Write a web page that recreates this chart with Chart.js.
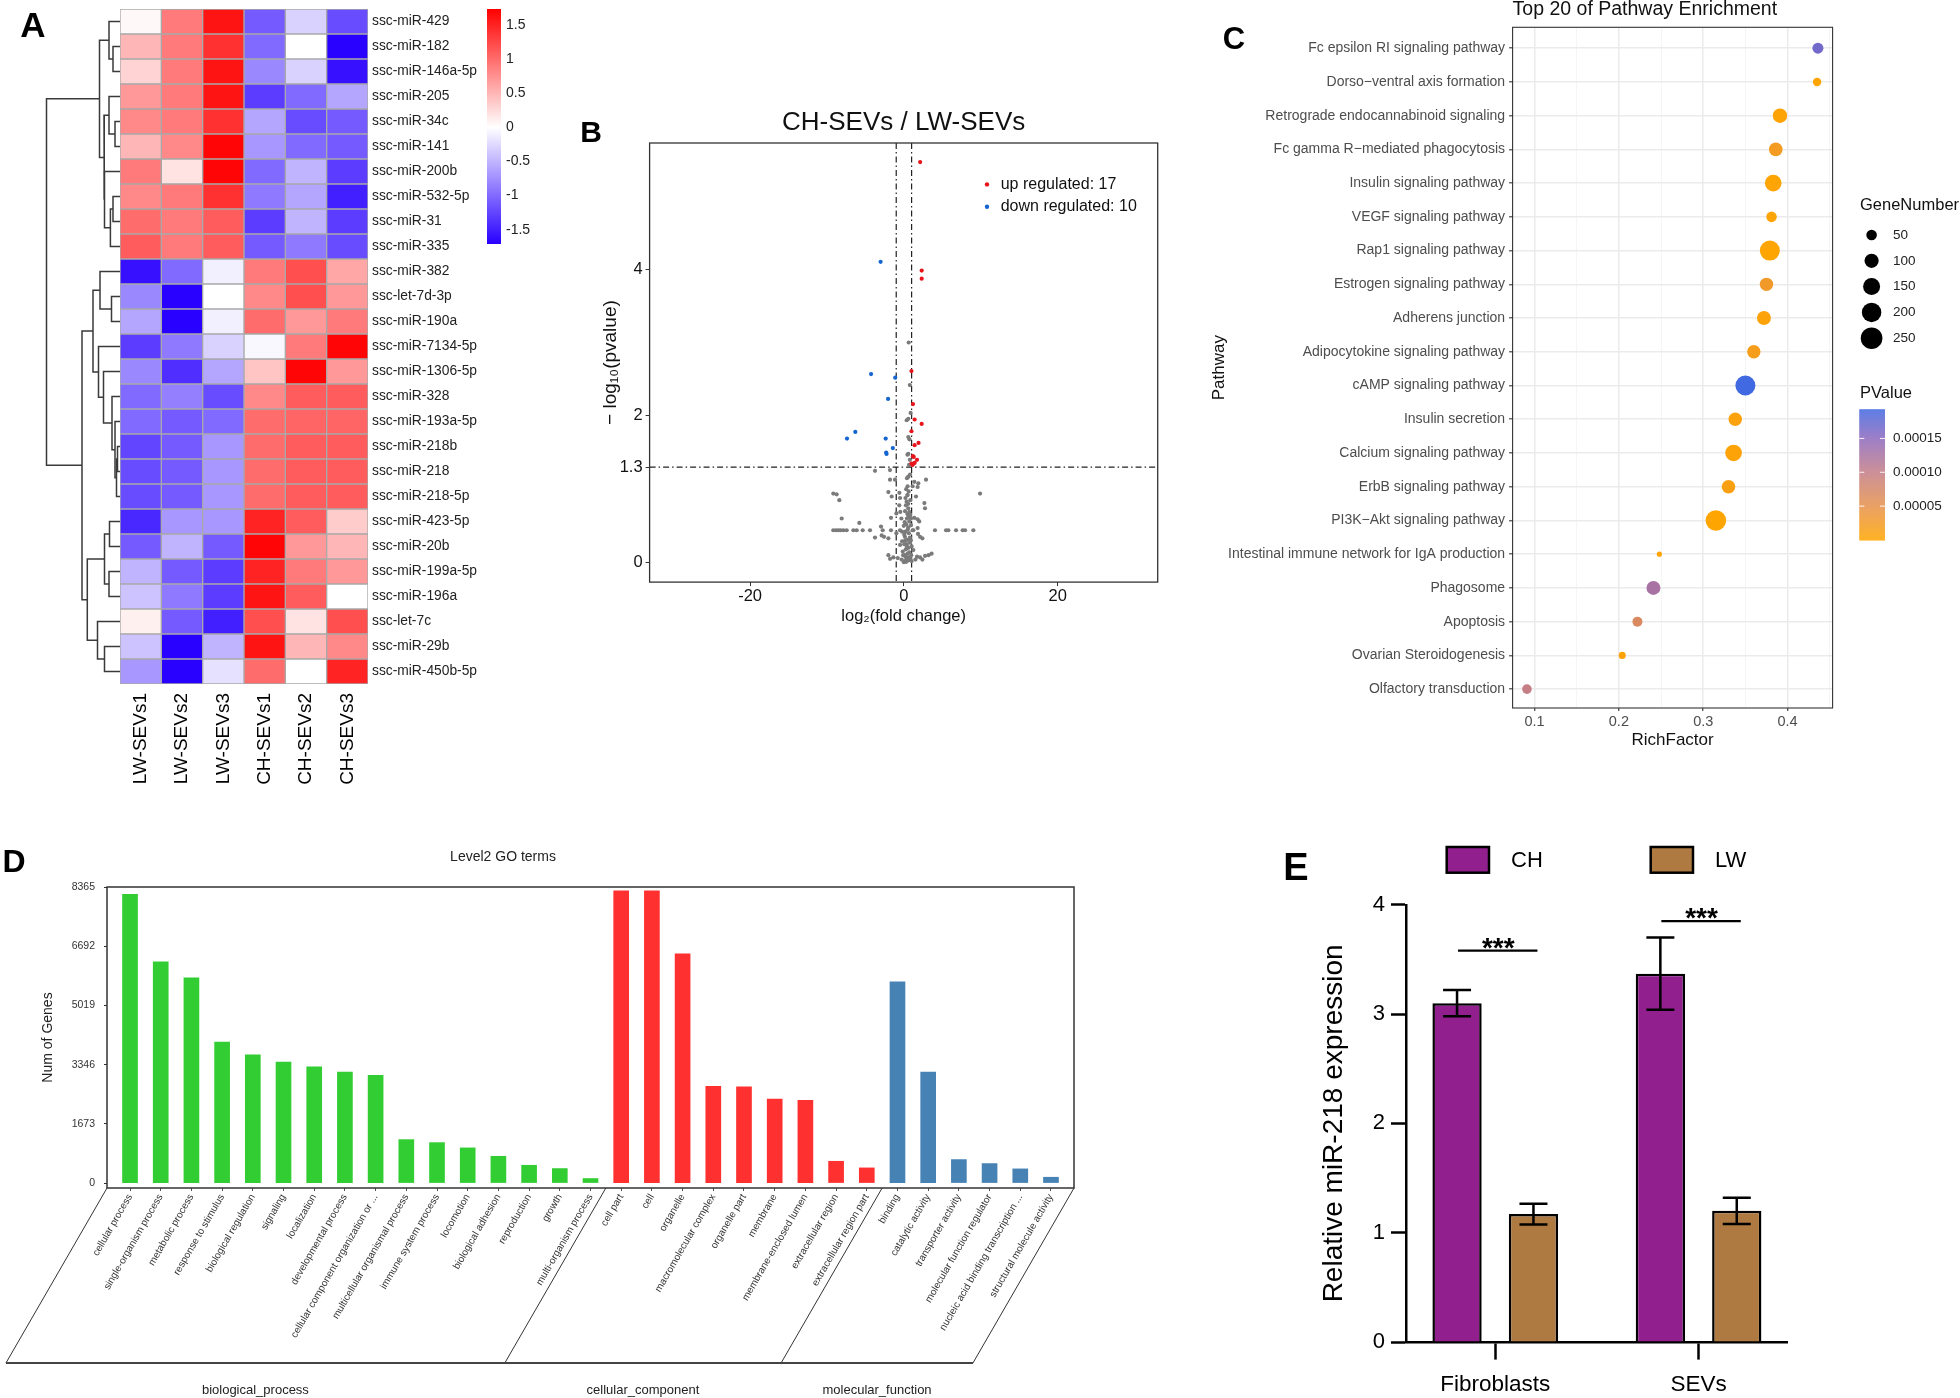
<!DOCTYPE html>
<html>
<head>
<meta charset="utf-8">
<title>miR-218 figure</title>
<script src="https://cdn.jsdelivr.net/npm/chart.js@4.4.1/dist/chart.umd.min.js"></script>
<style>
  html, body { margin: 0; padding: 0; background: #fff; }
  #fig { position: relative; width: 1960px; height: 1398px; overflow: hidden; background: #fff; }
  #fig canvas { position: absolute; }
  .tag { position: absolute; font-family: "Liberation Sans", Arial, sans-serif; font-weight: bold; line-height: 1; transform: translate(-50%, -50%); color: #000; }
</style>
</head>
<body>
<div id="fig">
  <canvas id="dendro" width="120" height="800" style="left:0;top:0"></canvas>
  <canvas id="heat" width="540" height="800" style="left:0;top:0"></canvas>
  <canvas id="volcano" width="620" height="540" style="left:550px;top:100px"></canvas>
  <canvas id="kegg" width="760" height="760" style="left:1200px;top:0"></canvas>
  <canvas id="go" width="1100" height="558" style="left:0;top:840px"></canvas>
  <canvas id="qpcr" width="685" height="558" style="left:1275px;top:840px"></canvas>
  <div class="tag" style="left:33px;top:24px;font-size:35px">A</div>
  <div class="tag" style="left:591px;top:132px;font-size:30px">B</div>
  <div class="tag" style="left:1234px;top:38px;font-size:31px">C</div>
  <div class="tag" style="left:14px;top:861px;font-size:32px">D</div>
  <div class="tag" style="left:1296px;top:867px;font-size:38px">E</div>
</div>
<script>
const ARIAL = '"Liberation Sans", Arial, Helvetica, sans-serif';
Chart.defaults.font.family = ARIAL;
Chart.defaults.color = '#222';

// A: heatmap of the 27 differentially expressed miRNAs
const heatGenes = ['ssc-miR-429', 'ssc-miR-182', 'ssc-miR-146a-5p', 'ssc-miR-205', 'ssc-miR-34c', 'ssc-miR-141',
  'ssc-miR-200b', 'ssc-miR-532-5p', 'ssc-miR-31', 'ssc-miR-335', 'ssc-miR-382', 'ssc-let-7d-3p', 'ssc-miR-190a',
  'ssc-miR-7134-5p', 'ssc-miR-1306-5p', 'ssc-miR-328', 'ssc-miR-193a-5p', 'ssc-miR-218b', 'ssc-miR-218',
  'ssc-miR-218-5p', 'ssc-miR-423-5p', 'ssc-miR-20b', 'ssc-miR-199a-5p', 'ssc-miR-196a', 'ssc-let-7c',
  'ssc-miR-29b', 'ssc-miR-450b-5p'];
const heatSamples = ['LW-SEVs1', 'LW-SEVs2', 'LW-SEVs3', 'CH-SEVs1', 'CH-SEVs2', 'CH-SEVs3'];
const zLW1 = [0.05, 0.5, 0.3, 0.7, 0.8, 0.5, 0.9, 0.8, 1.0, 1.1, -1.6, -0.8, -0.6, -1.3, -0.8, -1.0, -1.0, -1.25, -1.2, -1.2, -1.45, -1.1, -0.5, -0.4, 0.1, -0.4, -0.7];
const zLW2 = [0.9, 0.9, 0.9, 0.9, 0.9, 0.8, 0.2, 0.9, 0.9, 0.9, -1.0, -1.7, -1.7, -0.9, -1.4, -0.85, -1.1, -1.1, -1.1, -1.1, -0.7, -0.5, -1.1, -0.9, -1.1, -1.7, -1.7];
const zLW3 = [1.6, 1.4, 1.6, 1.6, 1.4, 1.7, 1.7, 1.4, 1.1, 1.1, -0.1, 0.0, -0.1, -0.3, -0.6, -1.2, -1.0, -0.7, -0.7, -0.7, -0.7, -1.1, -1.3, -1.3, -1.5, -0.5, -0.2];
const zCH1 = [-1.1, -1.0, -0.8, -1.3, -0.6, -0.7, -1.0, -0.9, -1.3, -1.1, 0.9, 0.8, 1.0, -0.05, 0.4, 0.8, 1.0, 1.0, 1.0, 1.0, 1.5, 1.7, 1.5, 1.6, 1.2, 1.6, 1.0];
const zCH2 = [-0.3, 0.0, -0.3, -1.0, -1.2, -1.0, -0.5, -0.6, -0.5, -0.9, 1.2, 1.2, 0.7, 0.9, 1.7, 1.1, 1.05, 1.1, 1.1, 1.1, 1.1, 0.7, 0.9, 1.1, 0.2, 0.5, 0.0];
const zCH3 = [-1.2, -1.7, -1.6, -0.6, -1.1, -1.1, -1.3, -1.5, -1.3, -1.2, 0.6, 0.7, 0.9, 1.7, 0.7, 1.1, 1.05, 1.1, 1.1, 1.1, 0.35, 0.5, 0.7, 0.0, 1.2, 0.8, 1.5];
const heatTicks = [1.5, 1, 0.5, 0, -0.5, -1, -1.5];
const heatRange = [-1.71, 1.735];
// [left child, right child, merge height]; leaves are 0..26, new nodes from 27
const dendroMerges = [
  [1, 2, 7], [0, 27, 11], [4, 5, 5], [3, 29, 11], [7, 8, 7], [31, 9, 9.6], [6, 32, 15.5], [30, 33, 16], [28, 34, 20.5],
  [11, 12, 8.5], [10, 36, 20], [17, 18, 2.5], [38, 19, 3.5], [16, 39, 5], [15, 40, 8], [14, 41, 16.5], [13, 42, 21.5],
  [37, 43, 27], [20, 21, 10.5], [22, 23, 11], [45, 46, 15.5], [25, 26, 15.5], [24, 48, 22.5], [47, 49, 32.7],
  [44, 50, 38], [35, 51, 73.5]
];

// B: volcano plot, [log2 fold change, -log10 p]
const volcanoUp = [[2.11, 5.46], [2.31, 3.98], [2.31, 3.87], [0.98, 2.61], [1.18, 2.16], [1.39, 1.95], [2.31, 1.89],
  [0.98, 1.79], [1.90, 1.63], [1.39, 1.60], [1.18, 1.45], [1.70, 1.40], [1.27, 1.44], [0.98, 1.35], [1.29, 1.35],
  [1.40, 1.36], [1.12, 1.33]];
const volcanoDown = [[-3.03, 4.10], [-4.27, 2.57], [-1.13, 2.52], [-2.06, 2.23], [-6.32, 1.78], [-7.40, 1.69],
  [-2.37, 1.69], [-1.44, 1.56], [-2.31, 1.50], [-2.26, 1.48]];
const volcanoNS = [[0.62, 3.0], [0.77, 2.42], [0.87, 2.04], [0.57, 1.96], [0.36, 1.94], [0.72, 1.68], [0.57, 1.71],
  [0.46, 1.47], [0.77, 1.40], [0.67, 1.33], [0.57, 1.48],
  [-3.76, 1.25], [-1.81, 1.26], [-1.81, 1.13], [-1.16, 1.13], [0.57, 1.17], [1.35, 1.10], [1.87, 1.08], [2.87, 1.13],
  [0.48, 1.04], [1.13, 1.04], [1.78, 1.03], [-9.18, 0.94], [-8.75, 0.93], [-8.40, 0.85], [9.90, 0.94], [-2.02, 0.96],
  [-1.59, 0.90], [-0.59, 0.95], [-0.50, 0.88], [0.48, 0.92], [0.83, 0.85], [1.57, 0.90], [2.66, 0.81], [2.74, 0.74],
  [0.26, 0.78], [0.57, 0.74], [0.70, 0.69], [0.83, 0.65], [0.39, 0.60], [0.70, 0.56], [0.92, 0.60], [1.35, 0.61],
  [1.78, 0.59], [1.99, 0.56], [-0.60, 0.78], [-0.47, 0.69], [-0.33, 0.60], [-1.68, 0.61], [-0.98, 0.67], [-8.09, 0.60],
  [-5.80, 0.54], [-9.18, 0.44], [-8.83, 0.44], [-8.53, 0.44], [-8.22, 0.44], [-7.87, 0.44], [-7.44, 0.44], [-6.57, 0.44],
  [-6.14, 0.44], [-5.36, 0.44], [-4.41, 0.44], [-2.76, 0.44], [-1.68, 0.44], [-0.51, 0.44], [1.23, 0.44], [4.04, 0.44],
  [5.48, 0.44], [5.78, 0.44], [6.78, 0.44], [7.64, 0.44], [7.95, 0.44], [9.03, 0.44], [-2.98, 0.49], [-3.76, 0.34],
  [-2.89, 0.37], [-2.59, 0.35], [-2.02, 0.33], [-0.98, 0.40], [-0.24, 0.42], [-0.02, 0.50], [0.57, 0.48], [0.92, 0.51],
  [1.13, 0.44], [1.78, 0.47], [2.10, 0.35], [2.40, 0.33], [1.83, 0.39], [0.13, 0.35], [0.44, 0.31], [0.78, 0.34],
  [-0.24, 0.29], [-0.50, 0.24], [0.35, 0.25], [0.78, 0.27], [1.22, 0.17], [-0.15, 0.15], [0.13, 0.10], [0.48, 0.12],
  [-2.02, 0.10], [-1.38, 0.07], [1.70, 0.08], [2.10, 0.07], [2.75, 0.09], [3.20, 0.10], [3.60, 0.12], [0.83, 0.05],
  [0.10, 0.02], [0.30, 0.01], [0.60, 0.03], [-0.30, 0.04], [1.00, 0.02], [-0.80, 0.06], [1.50, 0.04], [-1.80, 0.05],
  [2.40, 0.04], [0.00, 0.005], [0.20, 0.88], [0.35, 0.83], [0.55, 0.80], [0.15, 0.70], [0.45, 0.66], [0.62, 0.63],
  [0.10, 0.55], [0.30, 0.52], [0.50, 0.45], [0.65, 0.40], [0.20, 0.42], [0.05, 0.38], [0.40, 0.22], [0.60, 0.20],
  [0.25, 0.18], [0.05, 0.25], [0.70, 0.14], [0.20, 0.08], [0.55, 0.07], [0.35, 0.05], [-0.10, 0.10], [0.90, 0.30],
  [1.00, 0.22], [0.95, 0.10], [0.15, 0.30], [0.45, 0.92], [0.62, 0.97], [0.30, 1.00], [0.80, 1.20], [0.40, 1.15]];
const volcanoXTicks = [-20, 0, 20];
const volcanoYTicks = [0, 1.3, 2, 4];
const fcCut = [-1, 1];
const pCut = 1.3;

// C: KEGG enrichment bubbles
const pathNames = ['Fc epsilon RI signaling pathway', 'Dorso\u2212ventral axis formation', 'Retrograde endocannabinoid signaling',
  'Fc gamma R\u2212mediated phagocytosis', 'Insulin signaling pathway', 'VEGF signaling pathway', 'Rap1 signaling pathway',
  'Estrogen signaling pathway', 'Adherens junction', 'Adipocytokine signaling pathway', 'cAMP signaling pathway',
  'Insulin secretion', 'Calcium signaling pathway', 'ErbB signaling pathway', 'PI3K\u2212Akt signaling pathway',
  'Intestinal immune network for IgA production', 'Phagosome', 'Apoptosis', 'Ovarian Steroidogenesis', 'Olfactory transduction'];
const pathRich = [0.436, 0.435, 0.391, 0.386, 0.383, 0.381, 0.379, 0.375, 0.372, 0.360, 0.350, 0.338, 0.336, 0.330, 0.315, 0.248, 0.241, 0.222, 0.204, 0.091];
const pathGenes = [55, 27, 104, 91, 142, 50, 212, 88, 97, 88, 212, 88, 142, 91, 225, 2, 97, 43, 15, 39];
const pathP = [0.000165, 0.0000008, 0.000004, 0.000022, 0.000002, 0.000003, 0.000001, 0.000028, 0.000006, 0.000018,
  0.000193, 0.000008, 0.000005, 0.000012, 0.000001, 0.000002, 0.000125, 0.000068, 0.000004, 0.000098];
const richTicks = [0.1, 0.15, 0.2, 0.25, 0.3, 0.35, 0.4, 0.45];
const geneLegend = [50, 100, 150, 200, 250];
const pLegend = [0.00005, 0.0001, 0.00015];
const pMax = 0.000193;

// D: level 2 GO terms
const goBPNames = ['cellular process', 'single-organism process', 'metabolic process', 'response to stimulus',
  'biological regulation', 'signaling', 'localization', 'developmental process', 'cellular component organization or ...',
  'multicellular organismal process', 'immune system process', 'locomotion', 'biological adhesion', 'reproduction',
  'growth', 'multi-organism process'];
const goBPCounts = [8158, 6248, 5797, 3983, 3625, 3419, 3286, 3137, 3041, 1227, 1142, 993, 756, 502, 409, 127];
const goCCNames = ['cell part', 'cell', 'organelle', 'macromolecular complex', 'organelle part', 'membrane',
  'membrane-enclosed lumen', 'extracellular region', 'extracellular region part'];
const goCCCounts = [8260, 8260, 6474, 2731, 2722, 2375, 2336, 615, 428];
const goMFNames = ['binding', 'catalytic activity', 'transporter activity', 'molecular function regulator',
  'nucleic acid binding transcription ...', 'structural molecule activity'];
const goMFCounts = [5684, 3137, 663, 550, 400, 164];
const goGroups = ['biological_process', 'cellular_component', 'molecular_function'];
const goYTicks = [0, 1673, 3346, 5019, 6692, 8365];

// E: qPCR of miR-218
const qpcrGroups = ['Fibroblasts', 'SEVs'];
const chMean = [3.10, 3.37];
const chSD = [0.12, 0.33];
const lwMean = [1.17, 1.20];
const lwSD = [0.095, 0.12];
const sigLevels = [3.58, 3.85];
const sigMarks = ['***', '***'];

// ---------- helpers ----------
const base = {responsive: false, animation: false, events: [], devicePixelRatio: 1};
const quiet = {legend: {display: false}, tooltip: {enabled: false}};
const fitTo = (w, h) => (s) => {
  if (w !== undefined) s.width = w;
  if (h !== undefined) s.height = h;
  s.paddingLeft = s.paddingRight = s.paddingTop = s.paddingBottom = 0;
};
const setTicks = (vals) => (s) => { s.ticks = vals.map(v => ({value: v})); };

function drawText(ctx, text, x, y, font, opts = {}) {
  ctx.save();
  ctx.font = font;
  ctx.fillStyle = opts.color || '#222';
  ctx.textAlign = opts.align || 'left';
  ctx.textBaseline = opts.baseline || 'middle';
  ctx.fillText(text, x, y);
  ctx.restore();
}

function mix(a, b, t) {
  return `rgb(${a.map((c, i) => Math.round(c + (b[i] - c) * t)).join(',')})`;
}

function heatColor(v) {
  if (v < 0) return mix([255, 255, 255], [40, 0, 255], Math.min(1, v / heatRange[0]));
  return mix([255, 255, 255], [255, 0, 0], Math.min(1, v / heatRange[1]));
}

const pStops = [[0, [255, 165, 0]], [0.26, [230, 145, 75]], [0.52, [195, 125, 135]], [0.78, [140, 105, 190]], [1, [65, 105, 225]]];
function pColor(p) {
  const t = Math.max(0, Math.min(1, p / pMax));
  for (let k = 1; k < pStops.length; k++) {
    if (t <= pStops[k][0]) {
      const [t0, c0] = pStops[k - 1], [t1, c1] = pStops[k];
      return mix(c0, c1, (t - t0) / (t1 - t0));
    }
  }
  return mix(pStops[4][1], pStops[4][1], 0);
}
const geneRadius = n => Math.sqrt(5.75 + 0.445 * n);

const framePlugin = {
  id: 'frame',
  afterDatasetsDraw(chart, args, opts) {
    const {ctx, chartArea: a} = chart;
    ctx.save();
    ctx.strokeStyle = opts.color || '#333';
    ctx.lineWidth = opts.width || 1.2;
    ctx.strokeRect(a.left, a.top, a.right - a.left, a.bottom - a.top);
    ctx.restore();
  }
};

// ---------- A: dendrogram ----------
const nodeY = heatGenes.map((g, i) => i);
const nodeH = heatGenes.map(() => 0);
const dendroSets = dendroMerges.map(([a, b, h]) => {
  const seg = [{x: nodeH[a], y: nodeY[a]}, {x: h, y: nodeY[a]}, {x: h, y: nodeY[b]}, {x: nodeH[b], y: nodeY[b]}];
  nodeY.push((nodeY[a] + nodeY[b]) / 2);
  nodeH.push(h);
  return {data: seg, showLine: true, borderColor: '#3a3a3a', borderWidth: 1.5, pointRadius: 0, tension: 0, fill: false};
});

new Chart(document.getElementById('dendro'), {
  type: 'scatter',
  data: {datasets: dendroSets},
  options: {
    ...base,
    layout: {padding: {top: 9, bottom: 116, left: 0, right: 0}},
    plugins: quiet,
    scales: {
      x: {type: 'linear', display: false, min: 0, max: 120, reverse: true},
      y: {type: 'linear', display: false, min: -0.5, max: heatGenes.length - 0.5, reverse: true}
    }
  }
});

// ---------- A: heatmap ----------
const heatCols = [zLW1, zLW2, zLW3, zCH1, zCH2, zCH3];
const heatBar = {
  id: 'heatBar',
  afterDraw(chart) {
    const {ctx} = chart;
    const x0 = 487, w = 14, top = 9, h = 235;
    const span = heatRange[1] - heatRange[0];
    for (let k = 0; k < h; k++) {
      ctx.fillStyle = heatColor(heatRange[1] - (k + 0.5) / h * span);
      ctx.fillRect(x0, top + k, w, 1);
    }
    heatTicks.forEach(v => {
      drawText(ctx, String(v), 506, top + (heatRange[1] - v) / span * h, `14px ${ARIAL}`, {color: '#222'});
    });
  }
};

new Chart(document.getElementById('heat'), {
  type: 'bar',
  data: {
    labels: heatGenes,
    datasets: heatCols.map((col, c) => ({
      label: heatSamples[c],
      data: heatGenes.map((g, r) => ({x: [c, c + 1], y: g, z: col[r]})),
      backgroundColor: col.map(heatColor),
      borderColor: '#a9a9a9',
      borderWidth: 1,
      borderSkipped: false,
      barPercentage: 1,
      categoryPercentage: 1,
      grouped: false
    }))
  },
  options: {
    ...base,
    indexAxis: 'y',
    layout: {padding: {left: 120, top: 9, right: 0, bottom: 0}},
    plugins: quiet,
    scales: {
      x: {
        type: 'linear', min: 0, max: heatSamples.length, position: 'bottom',
        afterBuildTicks: setTicks(heatSamples.map((s, i) => i + 0.5)),
        afterFit: fitTo(undefined, 116),
        grid: {display: false, drawTicks: false}, border: {display: false},
        ticks: {callback: v => heatSamples[Math.floor(v)], minRotation: 90, maxRotation: 90, autoSkip: false,
          font: {family: ARIAL, size: 19}, color: '#000', padding: 9}
      },
      y: {
        position: 'right',
        afterFit: fitTo(172),
        grid: {display: false, drawTicks: false}, border: {display: false},
        ticks: {font: {family: ARIAL, size: 13.8}, color: '#222', padding: 4, autoSkip: false}
      }
    }
  },
  plugins: [heatBar]
});

// ---------- B: volcano ----------
const pts = arr => arr.map(([x, y]) => ({x, y}));
const volcanoGuides = {
  id: 'volcanoGuides',
  beforeDatasetsDraw(chart) {
    const {ctx, chartArea: a, scales: {x, y}} = chart;
    ctx.save();
    ctx.strokeStyle = '#222';
    ctx.lineWidth = 1.2;
    ctx.setLineDash([6, 3, 1.5, 3]);
    ctx.beginPath();
    fcCut.forEach(v => {
      const px = x.getPixelForValue(v);
      ctx.moveTo(px, a.top); ctx.lineTo(px, a.bottom);
    });
    const py = y.getPixelForValue(pCut);
    ctx.moveTo(a.left, py); ctx.lineTo(a.right, py);
    ctx.stroke();
    ctx.restore();
  },
  afterDraw(chart) {
    const {ctx, chartArea: a} = chart;
    chart.data.datasets.slice(0, 2).forEach((ds, i) => {
      const yy = a.top + 41.4 + i * 22.3;
      ctx.save();
      ctx.fillStyle = ds.backgroundColor;
      ctx.beginPath(); ctx.arc(a.right - 170.7, yy, 2.2, 0, Math.PI * 2); ctx.fill();
      ctx.restore();
      drawText(ctx, ds.label, a.right - 157, yy, `16px ${ARIAL}`, {color: '#111'});
    });
  }
};

new Chart(document.getElementById('volcano'), {
  type: 'scatter',
  data: {
    datasets: [
      {label: `up regulated: ${volcanoUp.length}`, data: pts(volcanoUp), backgroundColor: '#e8141c', pointRadius: 2.1, borderWidth: 0},
      {label: `down regulated: ${volcanoDown.length}`, data: pts(volcanoDown), backgroundColor: '#1565d0', pointRadius: 2.1, borderWidth: 0},
      {label: 'not significant', data: pts(volcanoNS), backgroundColor: '#7b7b7b', pointRadius: 2.1, borderWidth: 0}
    ]
  },
  options: {
    ...base,
    layout: {padding: {left: 0, right: 12.3, top: 0, bottom: 0}},
    plugins: {
      ...quiet,
      frame: {color: '#333', width: 1.3},
      title: {display: true, text: 'CH-SEVs / LW-SEVs', color: '#111', fullSize: false,
        font: {family: ARIAL, size: 26, weight: 'normal', lineHeight: 1.2}, padding: {top: 6.8, bottom: 5}}
    },
    scales: {
      x: {
        type: 'linear', min: -33.07, max: 33,
        afterBuildTicks: setTicks(volcanoXTicks), afterFit: fitTo(undefined, 57.9),
        grid: {drawOnChartArea: false, drawTicks: true, tickLength: 4, color: '#333'}, border: {display: false},
        ticks: {callback: v => String(v), font: {family: ARIAL, size: 16.5}, color: '#111', padding: 0},
        title: {display: true, text: 'log\u2082(fold change)', font: {family: ARIAL, size: 16.5}, color: '#111', padding: {top: 0, bottom: 13.6}}
      },
      y: {
        type: 'linear', min: -0.267, max: 5.72,
        afterBuildTicks: setTicks(volcanoYTicks), afterFit: fitTo(99.6),
        grid: {drawOnChartArea: false, drawTicks: true, tickLength: 4, color: '#333'}, border: {display: false},
        ticks: {callback: v => String(v), font: {family: ARIAL, size: 16.5}, color: '#111', padding: 3},
        title: {display: true, text: '\u2212 log\u2081\u2080(pvalue)', font: {family: ARIAL, size: 19}, color: '#111', padding: {top: 49, bottom: 0}}
      }
    }
  },
  plugins: [framePlugin, volcanoGuides]
});

// ---------- C: KEGG bubbles ----------
const isMajor = v => Math.abs(v * 10 - Math.round(v * 10)) < 1e-6;
const keggLegend = {
  id: 'keggLegend',
  afterDraw(chart) {
    const {ctx, chartArea: a} = chart;
    const lx = a.right + 27.4;
    drawText(ctx, 'GeneNumber', lx, 205, `16.5px ${ARIAL}`, {color: '#111'});
    geneLegend.forEach((n, i) => {
      const yy = 235 + i * 25.8;
      ctx.save();
      ctx.fillStyle = '#000';
      ctx.beginPath(); ctx.arc(a.right + 39, yy, geneRadius(n), 0, Math.PI * 2); ctx.fill();
      ctx.restore();
      drawText(ctx, String(n), a.right + 60.4, yy, `13.5px ${ARIAL}`, {color: '#222'});
    });
    drawText(ctx, 'PValue', lx, 393, `16.5px ${ARIAL}`, {color: '#111'});
    const bx = a.right + 26.7, bw = 25.7, bt = 409.3, bh = 130.7;
    for (let k = 0; k < bh; k++) {
      ctx.fillStyle = pColor(pMax * (1 - (k + 0.5) / bh));
      ctx.fillRect(bx, bt + k, bw, 1.2);
    }
    pLegend.forEach(p => {
      const yy = bt + bh - p / pMax * bh;
      ctx.save();
      ctx.strokeStyle = 'rgba(255,255,255,0.9)';
      ctx.lineWidth = 1;
      ctx.beginPath();
      ctx.moveTo(bx, yy); ctx.lineTo(bx + 5, yy);
      ctx.moveTo(bx + bw - 5, yy); ctx.lineTo(bx + bw, yy);
      ctx.stroke();
      ctx.restore();
      drawText(ctx, p.toFixed(5), a.right + 60.4, yy, `13.5px ${ARIAL}`, {color: '#222'});
    });
  }
};

new Chart(document.getElementById('kegg'), {
  type: 'bubble',
  data: {
    datasets: [{
      data: pathNames.map((n, i) => ({x: pathRich[i], y: i, r: geneRadius(pathGenes[i])})),
      backgroundColor: pathP.map(pColor),
      borderWidth: 0,
      clip: false
    }]
  },
  options: {
    ...base,
    layout: {padding: {left: 0, right: 127.4, top: 0, bottom: 0}},
    plugins: {
      ...quiet,
      frame: {color: '#333', width: 1.1},
      title: {display: true, text: 'Top 20 of Pathway Enrichment', align: 'start', fullSize: false, color: '#111',
        font: {family: ARIAL, size: 19.5, weight: 'normal', lineHeight: 1}, padding: {top: 0, bottom: 7.8}}
    },
    scales: {
      x: {
        type: 'linear', min: 0.074, max: 0.4534,
        afterBuildTicks: setTicks(richTicks), afterFit: fitTo(undefined, 52),
        grid: {
          color: (c) => (c.tick && isMajor(c.tick.value)) ? '#ebebeb' : '#f3f3f3',
          lineWidth: (c) => (c.tick && isMajor(c.tick.value)) ? 1.5 : 0.8,
          tickColor: (c) => (c.tick && isMajor(c.tick.value)) ? '#333' : 'rgba(0,0,0,0)',
          drawTicks: true, tickLength: 3, tickWidth: 1.1
        },
        border: {display: false},
        ticks: {callback: v => isMajor(v) ? v.toFixed(1) : '', autoSkip: false, font: {family: ARIAL, size: 14.5}, color: '#4d4d4d', padding: 2.3},
        title: {display: true, text: 'RichFactor', font: {family: ARIAL, size: 17}, color: '#111', padding: {top: 0, bottom: 9.8}}
      },
      y: {
        type: 'linear', min: -0.62, max: pathNames.length - 0.44, reverse: true,
        afterBuildTicks: setTicks(pathNames.map((n, i) => i)), afterFit: fitTo(312.6),
        grid: {color: '#ebebeb', lineWidth: 1.6, tickColor: '#333', tickWidth: 1.1, drawTicks: true, tickLength: 3.5},
        border: {display: false},
        ticks: {callback: v => pathNames[v], autoSkip: false, font: {family: ARIAL, size: 14}, color: '#4d4d4d', padding: 4},
        title: {display: true, text: 'Pathway', font: {family: ARIAL, size: 17}, color: '#111', padding: {top: 8.8, bottom: 0}}
      }
    }
  },
  plugins: [framePlugin, keggLegend]
});

// ---------- D: GO level 2 ----------
const goNames = [...goBPNames, ...goCCNames, ...goMFNames];
const goCounts = [...goBPCounts, ...goCCCounts, ...goMFCounts];
const goColors = [...goBPNames.map(() => '#32cd32'), ...goCCNames.map(() => '#ff3030'), ...goMFNames.map(() => '#4682b4')];
const goSizes = [goBPNames.length, goCCNames.length, goMFNames.length];

const goDecor = {
  id: 'goDecor',
  afterDraw(chart) {
    const {ctx, chartArea: a, scales: {x}} = chart;
    drawText(ctx, 'Level2 GO terms', 503, 17, `14px ${ARIAL}`, {align: 'center', color: '#222'});
    const top = a.bottom, bottom = 523, dx = (bottom - top) / Math.tan(Math.PI / 3);
    let edges = [a.left], start = -0.5;
    goSizes.forEach((n, g) => {
      start += n;
      edges.push(g === goSizes.length - 1 ? a.right : x.getPixelForValue(start));
    });
    ctx.save();
    ctx.strokeStyle = '#333';
    ctx.lineWidth = 1;
    ctx.beginPath();
    edges.forEach(px => { ctx.moveTo(px, top); ctx.lineTo(px - dx, bottom); });
    ctx.stroke();
    ctx.lineWidth = 2;
    ctx.strokeStyle = '#444';
    ctx.beginPath();
    ctx.moveTo(edges[0] - dx, bottom); ctx.lineTo(edges[edges.length - 1] - dx, bottom);
    ctx.stroke();
    ctx.restore();
    goGroups.forEach((g, i) => {
      const cx = (edges[i] + edges[i + 1]) / 2 - dx;
      drawText(ctx, g, cx, 550, `13px ${ARIAL}`, {align: 'center', color: '#222'});
    });
  }
};

new Chart(document.getElementById('go'), {
  type: 'bar',
  data: {
    datasets: [{
      data: goCounts.map((v, i) => ({x: i, y: v})),
      backgroundColor: goColors,
      borderWidth: 0,
      barThickness: 15
    }]
  },
  options: {
    ...base,
    layout: {padding: {left: 0, right: 26, top: 47, bottom: 0}},
    plugins: {...quiet, frame: {color: '#333', width: 1.5}},
    scales: {
      x: {
        type: 'linear', min: -0.75, max: goNames.length - 0.25, offset: false,
        afterBuildTicks: setTicks(goNames.map((n, i) => i)), afterFit: fitTo(undefined, 210),
        grid: {offset: false, drawOnChartArea: false, drawTicks: true, tickLength: 3, color: '#555'},
        border: {display: false},
        ticks: {callback: v => goNames[v], autoSkip: false, minRotation: 60, maxRotation: 60,
          font: {family: ARIAL, size: 10}, color: '#333', padding: 1}
      },
      y: {
        type: 'linear', min: -140, max: 8365,
        afterBuildTicks: setTicks(goYTicks), afterFit: fitTo(107),
        grid: {drawOnChartArea: false, drawTicks: true, tickLength: 3, color: '#333'},
        border: {display: false},
        ticks: {callback: v => String(v), font: {family: ARIAL, size: 10.5}, color: '#333', padding: 9},
        title: {display: true, text: 'Num of Genes', font: {family: ARIAL, size: 14}, color: '#222', padding: {top: 39.6, bottom: 0}}
      }
    }
  },
  plugins: [framePlugin, goDecor]
});

// ---------- E: qPCR bars ----------
const qpcrDecor = {
  id: 'qpcrDecor',
  afterDatasetsDraw(chart) {
    const {ctx, chartArea: a, scales: {y}} = chart;
    const means = [chMean, lwMean], sds = [chSD, lwSD];
    ctx.save();
    ctx.strokeStyle = '#000';
    ctx.lineWidth = 2.5;
    chart.data.datasets.forEach((ds, d) => {
      chart.getDatasetMeta(d).data.forEach((bar, i) => {
        const t = y.getPixelForValue(means[d][i] + sds[d][i]);
        const b = y.getPixelForValue(means[d][i] - sds[d][i]);
        ctx.beginPath();
        ctx.moveTo(bar.x, t); ctx.lineTo(bar.x, b);
        ctx.moveTo(bar.x - 14, t); ctx.lineTo(bar.x + 14, t);
        ctx.moveTo(bar.x - 14, b); ctx.lineTo(bar.x + 14, b);
        ctx.stroke();
      });
    });
    const m0 = chart.getDatasetMeta(0).data, m1 = chart.getDatasetMeta(1).data;
    ctx.lineWidth = 2.2;
    sigLevels.forEach((lv, i) => {
      const py = y.getPixelForValue(lv);
      ctx.beginPath(); ctx.moveTo(m0[i].x + 1, py); ctx.lineTo(m1[i].x + 4, py); ctx.stroke();
      drawText(ctx, sigMarks[i], (m0[i].x + m1[i].x) / 2 + 3, py + 6, `bold 28px ${ARIAL}`, {align: 'center', baseline: 'alphabetic', color: '#000'});
    });
    chart.data.datasets.forEach((ds, d) => {
      const bx = a.left + 40.7 + d * 204, by = a.top - 57.8;
      ctx.fillStyle = ds.backgroundColor;
      ctx.fillRect(bx, by, 42.3, 25.7);
      ctx.lineWidth = 2.5;
      ctx.strokeRect(bx, by, 42.3, 25.7);
      drawText(ctx, ds.label, bx + 64.3, by + 14, `22px ${ARIAL}`, {color: '#000'});
    });
    ctx.restore();
  }
};

new Chart(document.getElementById('qpcr'), {
  type: 'bar',
  data: {
    datasets: [
      {label: 'CH', data: chMean.map((v, i) => ({x: i, y: v})), backgroundColor: '#911f8d', borderColor: '#000', borderWidth: 2.5},
      {label: 'LW', data: lwMean.map((v, i) => ({x: i, y: v})), backgroundColor: '#ae7a42', borderColor: '#000', borderWidth: 2.5}
    ]
  },
  options: {
    ...base,
    categoryPercentage: 0.7516,
    barPercentage: 0.645,
    layout: {padding: {left: 0, right: 173, top: 64.8, bottom: 0}},
    plugins: quiet,
    scales: {
      x: {
        type: 'linear', min: -0.439, max: 1.435, offset: false,
        afterBuildTicks: setTicks(qpcrGroups.map((g, i) => i)), afterFit: fitTo(undefined, 56),
        grid: {offset: false, drawOnChartArea: false, drawTicks: true, tickLength: 17.6, tickWidth: 2.5, tickColor: '#000'},
        border: {display: true, color: '#000', width: 2.5},
        ticks: {callback: v => qpcrGroups[v], font: {family: ARIAL, size: 22.5}, color: '#000', padding: 11.4}
      },
      y: {
        type: 'linear', min: 0, max: 4,
        afterBuildTicks: setTicks([0, 1, 2, 3, 4]), afterFit: fitTo(131),
        grid: {drawOnChartArea: false, drawTicks: true, tickLength: 15, tickWidth: 2.5, tickColor: '#000'},
        border: {display: true, color: '#000', width: 2.5},
        ticks: {callback: v => String(v), font: {family: ARIAL, size: 22}, color: '#000', padding: 6},
        title: {display: true, text: 'Relative miR-218 expression', font: {family: ARIAL, size: 28}, color: '#000', padding: {top: 42.2, bottom: 0}}
      }
    }
  },
  plugins: [qpcrDecor]
});
</script>
</body>
</html>
